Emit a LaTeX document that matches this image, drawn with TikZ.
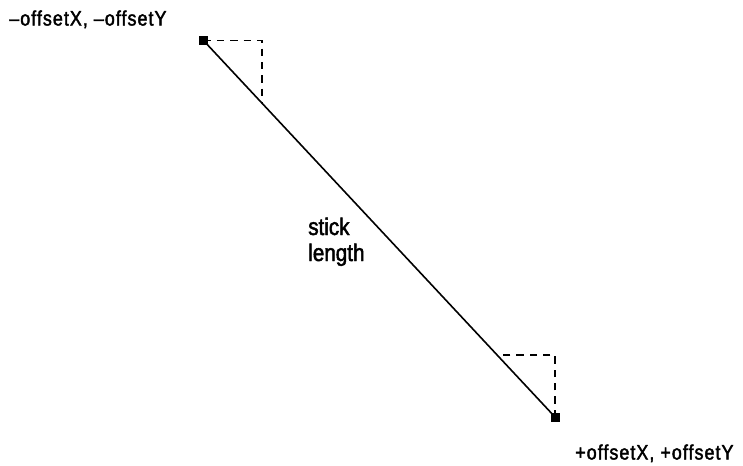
\documentclass[tikz,border=0pt]{standalone}
\usepackage{fontspec}
\setmainfont{Liberation Sans}[FakeStretch=0.86, FakeBold=2]
\usepackage{tikz}
\usetikzlibrary{positioning,calc}

\begin{document}
\begin{tikzpicture}[
  x=0.75pt, y=-0.75pt,
  endpt/.style={fill=black, minimum size=6.75pt, inner sep=0pt},
  stick/.style={line width=1.2pt, black},
  offs/.style={dash pattern=on 5.5pt off 4.5pt, line width=1.1pt, black},
  lbl/.style={inner sep=0pt, align=left, font=\fontsize{15.6}{17}\selectfont\addfontfeatures{LetterSpace=5}},
  biglbl/.style={inner sep=0pt, align=left, font=\fontsize{18}{19.5}\selectfont}]
  \useasboundingbox (0,0) rectangle (743,465);
  \node[endpt] (top) at (203.5,40.5) {};
  \node[endpt] (bot) at (555,417) {};
  \coordinate (topc) at (262,40.5);
  \coordinate (topm) at (262,103);
  \coordinate (botc) at (555,355);
  \coordinate (botm) at (497,355);
  \draw[stick] (top.center) -- (bot.center);
  \draw[offs] (top.center) -- (topc) -- (topm);
  \draw[offs] (bot.center) -- (botc) -- (botm);
  \node[lbl, anchor=base west] (toplbl) at (9,25.5) {\textendash offsetX, \textendash offsetY};
  \node[biglbl, anchor=base west] (len) at (308,261) {stick\\length};
  \node[lbl, anchor=base west] (botlbl) at (575,459.5) {+offsetX, +offsetY};
\end{tikzpicture}
\end{document}
